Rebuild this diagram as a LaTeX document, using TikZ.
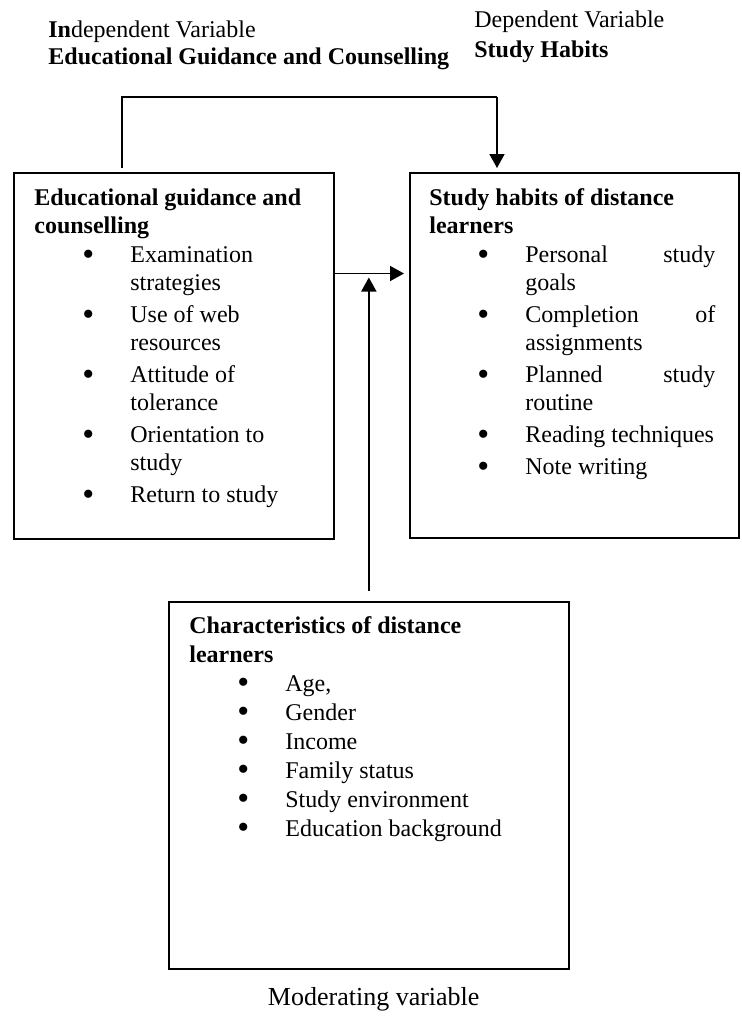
\documentclass[tikz,border=0pt]{standalone}
\usepackage{fontspec}
\setmainfont{Liberation Serif}
\usetikzlibrary{arrows.meta,positioning}
\tikzset{
  box/.style={draw, line width=0.85pt, anchor=north west, inner sep=0pt},
  txt/.style={anchor=north west, inner sep=0pt, align=left,
              font=\fontsize{12}{14.15}\selectfont},
  ar/.style={-{Triangle[length=7pt,width=7.5pt]}, line width=0.85pt},
  ln/.style={line width=0.7pt},
}
% normal word spaces inside aligned nodes
\newcommand{\nsp}{\spaceskip=0pt\xspaceskip=0pt\relax}
% bullet and hanging indent of the lists
\newcommand{\itm}{\makebox[48pt][l]{\hspace{24pt}%
  \raisebox{-1.4pt}{\fontsize{17}{17}\selectfont\textbullet}}}
\newcommand{\cnt}{\hspace*{48pt}}

\begin{document}
\begin{tikzpicture}[x=0.5pt,y=-0.5pt]
  \useasboundingbox (0,0) rectangle (742,1019);

  % variable labels
  \node[txt, text width=215pt] (ivar) at (48,17)
       {\nsp\strut\textbf{In}dependent Variable\\[-0.5pt]
        \textbf{Educational Guidance and Counselling}};
  \node[txt, text width=130pt] (dvar) at (474,7)
       {\nsp\strut Dependent Variable\\[0.85pt]\textbf{Study Habits}};

  % boxes
  \node[box, minimum width=160pt, minimum height=183pt] (gbox) at (13,172) {};
  \node[box, minimum width=164.5pt, minimum height=182.5pt] (sbox) at (409,172) {};
  \node[box, minimum width=200pt, minimum height=183.5pt] (cbox) at (168,601) {};

  \node[txt, text width=150pt] (gtxt) at (34,185.2)
       {\nsp\strut\textbf{Educational guidance and}\\\textbf{counselling}\\[0.3pt]
        \itm Examination\\\cnt strategies\\[1.7pt]
        \itm Use of web\\\cnt resources\\[1.7pt]
        \itm Attitude of\\\cnt tolerance\\[1.7pt]
        \itm Orientation to\\\cnt study\\[1.7pt]
        \itm Return to study};
  \node[txt, text width=150pt] (stxt) at (429,185.2)
       {\nsp\strut\textbf{Study habits of distance}\\\textbf{learners}\\[0.3pt]
        \itm\makebox[95pt][s]{Personal study}\\\cnt goals\\[1.7pt]
        \itm\makebox[95pt][s]{Completion of}\\\cnt assignments\\[1.7pt]
        \itm\makebox[95pt][s]{Planned study}\\\cnt routine\\[1.7pt]
        \itm Reading techniques\\[1.7pt]
        \itm Note writing};
  \node[txt, text width=190pt] (ctxt) at (189,613.5)
       {\nsp\strut\textbf{Characteristics of distance}\\\textbf{learners}\\[0.35pt]
        \itm Age,\\[0.35pt]
        \itm Gender\\[0.35pt]
        \itm Income\\[0.35pt]
        \itm Family status\\[0.35pt]
        \itm Study environment\\[0.35pt]
        \itm Education background};

  \node[font=\fontsize{13}{15}\selectfont, anchor=base] (mvar) at (373.7,1005)
       {Moderating variable};

  % connectors
  \coordinate (tl) at (122,97);
  \coordinate (tr) at (497,97);
  \coordinate (mid) at (368,273.5);
  \draw[ln] ([yshift=2pt]gbox.north -| tl) -- (tl) -- (tr);
  \draw[ar, shorten >=2pt] (tr) -- (sbox.north -| tr);
  \draw[ar, shorten >=2.5pt] (gbox.east |- mid) -- (sbox.west |- mid);
  \draw[ar, shorten >=2pt] ([yshift=5pt]cbox.north) -- (cbox.north |- mid);
\end{tikzpicture}
\end{document}
